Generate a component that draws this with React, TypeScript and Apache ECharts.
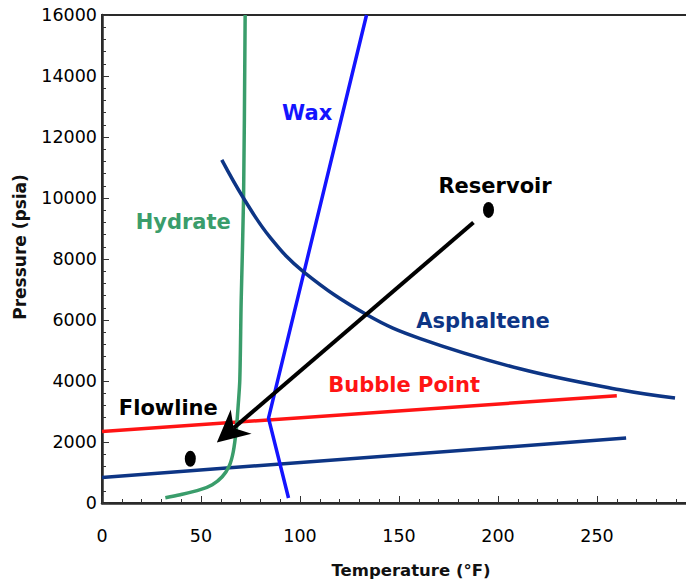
import React, { useEffect, useRef } from "react";
import * as echarts from "echarts";

// ---- data ----
const hydrateCurve: [number, number][] = [
  [32, 170], [39.5, 270], [49.6, 436], [55.7, 600], [60.7, 860], [64.3, 1220],
  [66.3, 1680], [67.8, 2400], [68.8, 3220], [69.6, 4040], [70.3, 6660],
  [71.5, 10000], [72.3, 16000],
];
const waxCurve: [number, number][] = [
  [94.2, 164], [84.1, 2785], [133.6, 16000],
];
const asphalteneCurve: [number, number][] = [
  [60.5, 11250], [71.5, 9993], [85, 8700], [101.8, 7580], [133.8, 6170],
  [160.7, 5390], [211.1, 4400], [261.6, 3712], [289.4, 3440],
];
const bubblePointLine: [number, number][] = [
  [0, 2346], [260, 3516],
];
const lowerLine: [number, number][] = [
  [0, 839], [264.7, 2130],
];
const reservoirPoint: [number, number] = [195.2, 9610];
const flowlinePoint: [number, number] = [44.6, 1451];
// [startX, startY, tipX, tipY]
const arrowPath: [number, number, number, number] = [187.6, 9194, 58, 1986];
const annotationNames = ["Wax", "Hydrate", "Reservoir", "Asphaltene", "Bubble Point", "Flowline"];
const annotationX = [103.6, 41.0, 198.5, 192.4, 152.6, 33.5];
const annotationY = [12788, 9217, 10403, 5980, 3883, 3122];
const xTicks = { min: 0, max: 300, interval: 50 };
const yTicks = { min: 0, max: 16000, interval: 2000 };

const annotationColors: Record<string, string> = {
  Wax: "#1414ff",
  Hydrate: "#3a9d6b",
  Reservoir: "#000000",
  Asphaltene: "#0d3585",
  "Bubble Point": "#ff1414",
  Flowline: "#000000",
};

const FONT = "'DejaVu Sans', sans-serif";
const ELLIPSE = "path://M0,-1A1,1,0,1,1,0,1A1,1,0,1,1,0,-1Z";

export default function App() {
  const ref = useRef<HTMLDivElement>(null);
  useEffect(() => {
    if (!ref.current) return;
    const chart = echarts.init(ref.current, undefined, { renderer: "svg" });
    const axisCommon = {
      axisLine: { show: true, lineStyle: { color: "#2a2a2a", width: 2.5 } },
      axisTick: { show: true, inside: true, length: 7, lineStyle: { color: "#333", width: 1 } },
      minorTick: { show: true, splitNumber: 5, length: 4, lineStyle: { color: "#333", width: 1 } },
      splitLine: { show: false },
    };
    chart.setOption({
      animation: false,
      backgroundColor: "#ffffff",
      grid: {
        left: 102, right: 4, top: 15, bottom: 78,
        show: true, borderColor: "#2a2a2a", borderWidth: 2, backgroundColor: "transparent",
      },
      xAxis: {
        type: "value",
        ...xTicks,
        ...axisCommon,
        axisLabel: {
          showMaxLabel: false, margin: 24,
          color: "#000", fontFamily: FONT, fontSize: 17.5,
        },
      },
      yAxis: {
        type: "value",
        ...yTicks,
        ...axisCommon,
        axisLabel: {
          margin: 5, color: "#000", fontFamily: FONT, fontSize: 17.5,
          formatter: (v: number) => String(v),
        },
      },
      graphic: [
        {
          type: "text", x: 411, y: 570,
          style: {
            text: "Temperature (°F)", align: "center", verticalAlign: "middle",
            font: `bold 16.5px ${FONT}`, fill: "#111",
          },
        },
        {
          type: "text", x: 20, y: 247, rotation: Math.PI / 2,
          style: {
            text: "Pressure (psia)", align: "center", verticalAlign: "middle",
            font: `bold 17px ${FONT}`, fill: "#111",
          },
        },
      ],
      series: [
        {
          type: "line", data: lowerLine, symbol: "none",
          lineStyle: { color: "#0d3585", width: 3.5 },
        },
        {
          type: "line", data: bubblePointLine, symbol: "none",
          lineStyle: { color: "#ff1414", width: 3.5 },
        },
        {
          type: "line", data: hydrateCurve, symbol: "none", smooth: 0.3,
          lineStyle: { color: "#3a9d6b", width: 3.5 },
        },
        {
          type: "line", data: waxCurve, symbol: "none",
          lineStyle: { color: "#1414ff", width: 3.5 },
        },
        {
          type: "line", data: asphalteneCurve, symbol: "none", smooth: 0.4,
          lineStyle: { color: "#0d3585", width: 3.5 },
        },
        {
          type: "custom",
          data: [arrowPath],
          z: 5,
          renderItem: (params: any, api: any) => {
            const s = api.coord([api.value(0), api.value(1)]);
            const t = api.coord([api.value(2), api.value(3)]);
            const dx = t[0] - s[0];
            const dy = t[1] - s[1];
            const len = Math.hypot(dx, dy);
            const ux = dx / len, uy = dy / len;
            const nx = -uy, ny = ux;
            const headLen = 32, halfW = 16, notch = 22;
            const bx = t[0] - ux * headLen, by = t[1] - uy * headLen;
            const kx = t[0] - ux * notch, ky = t[1] - uy * notch;
            return {
              type: "group",
              children: [
                {
                  type: "line",
                  shape: { x1: s[0], y1: s[1], x2: kx, y2: ky },
                  style: { stroke: "#000", lineWidth: 4 },
                },
                {
                  type: "polygon",
                  shape: {
                    points: [
                      [t[0], t[1]],
                      [bx + nx * halfW, by + ny * halfW],
                      [kx, ky],
                      [bx - nx * halfW, by - ny * halfW],
                    ],
                  },
                  style: { fill: "#000" },
                },
              ],
            };
          },
        },
        {
          type: "scatter",
          data: [reservoirPoint, flowlinePoint],
          symbol: ELLIPSE, symbolSize: [11, 16],
          itemStyle: { color: "#000", opacity: 1 },
          z: 6,
        },
        {
          type: "scatter",
          symbolSize: 0,
          itemStyle: { opacity: 1 },
          data: annotationNames.map((n, i) => ({
            value: [annotationX[i], annotationY[i]],
            name: n,
            label: { color: annotationColors[n] },
          })),
          label: {
            show: true, position: "inside", formatter: "{b}", opacity: 1,
            textBorderWidth: 0,
            fontFamily: FONT, fontWeight: "bold", fontSize: 21,
          },
          z: 7,
        },
      ],
    });
    return () => chart.dispose();
  }, []);
  return (
    <div
      ref={ref}
      style={{ position: "fixed", left: 0, top: 0, width: 700, height: 581 }}
    />
  );
}
